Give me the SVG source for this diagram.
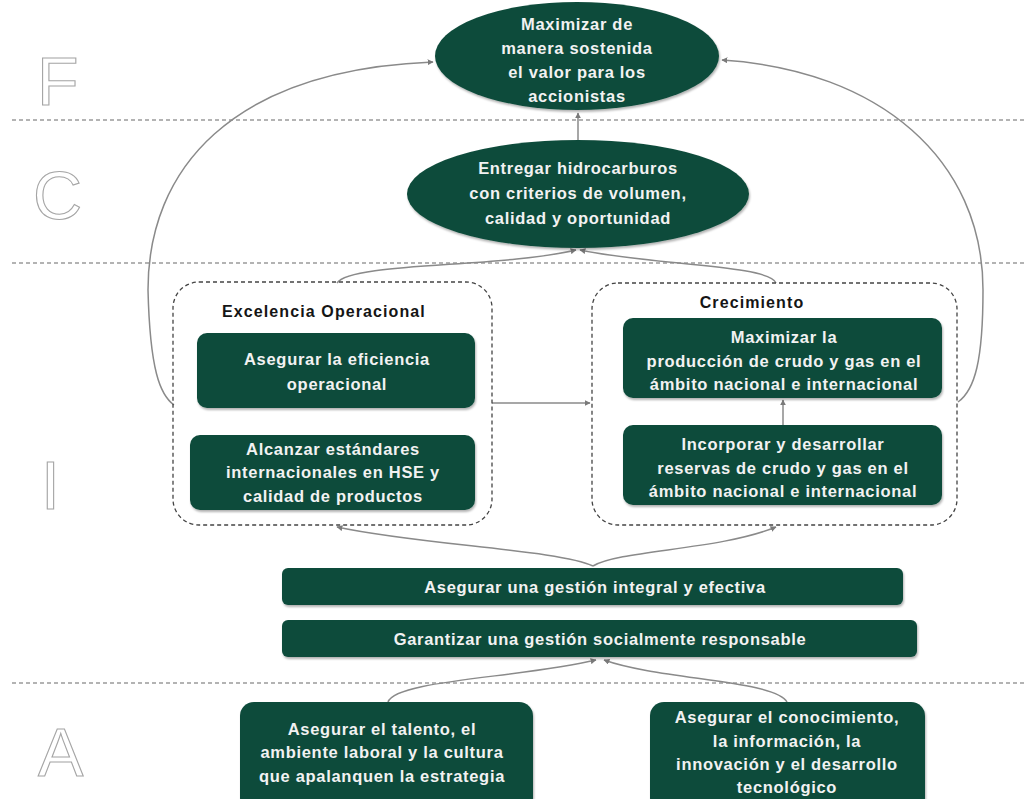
<svg xmlns="http://www.w3.org/2000/svg" width="1026" height="799" viewBox="0 0 1026 799">
  <style>
    .lvl { font-family: "Liberation Sans", Arial, sans-serif; font-size: 68px; fill: #ffffff; stroke: #a5a5a5; stroke-width: 1.1; }
    .sep { stroke: #9a9a9a; stroke-width: 1.3; stroke-dasharray: 4 3; fill: none; }
    .grp { stroke: #444444; stroke-width: 1.3; stroke-dasharray: 4 3; fill: none; }
    .node { fill: #0e4b3b; filter: url(#shadow); }
    .t { font-family: "Liberation Sans", Arial, sans-serif; font-size: 16.5px; font-weight: bold; fill: #f2f2f2; text-anchor: middle; letter-spacing: 0.7px; }
    .h { font-family: "Liberation Sans", Arial, sans-serif; font-size: 16px; font-weight: bold; fill: #151515; text-anchor: middle; letter-spacing: 1.1px; }
    .c { stroke: #8a8a8a; stroke-width: 1.5; fill: none; marker-end: url(#arr); }
  </style>
  <defs>
    <marker id="arr" viewBox="0 0 10 10" refX="9" refY="5" markerWidth="6" markerHeight="6" orient="auto" markerUnits="userSpaceOnUse">
      <path d="M0,0 L10,5 L0,10 z" fill="#7a7a7a"/>
    </marker>
    <filter id="shadow" x="-5%" y="-10%" width="110%" height="130%">
      <feDropShadow dx="1" dy="2" stdDeviation="1.2" flood-color="#000" flood-opacity="0.3"/>
    </filter>
  </defs>

  <!-- level letters -->
  <text class="lvl" x="37" y="105">F</text>
  <text class="lvl" x="33" y="219">C</text>
  <text class="lvl" x="41" y="509">I</text>
  <text class="lvl" x="38" y="776">A</text>

  <!-- level separators -->
  <line class="sep" x1="12" y1="120" x2="1026" y2="120"/>
  <line class="sep" x1="12" y1="263" x2="1026" y2="263"/>
  <line class="sep" x1="12" y1="683" x2="1026" y2="683"/>

  <!-- connectors -->
  <g id="connectors">
    <path class="c" d="M578,140 L578,113"/>
    <path class="c" d="M174,405 C160,395 150,370 148,290 C148,170 230,70 433,62"/>
    <path class="c" d="M958,402 C975,390 983,360 983,290 C983,160 880,70 722,60"/>
    <path class="c" d="M337,283 C350,262 500,268 576,250"/>
    <path class="c" d="M776,283 C770,265 650,265 580,250"/>
    <path class="c" d="M492,403 L590,403"/>
    <path class="c" d="M783,425 L783,400"/>
    <path class="c" d="M593,566 C560,550 420,545 337,527"/>
    <path class="c" d="M593,566 C620,550 720,550 776,527"/>
    <path class="c" d="M388,702 C395,680 520,678 596,660"/>
    <path class="c" d="M787,702 C775,680 660,680 604,660"/>
  </g>

  <!-- F -->
  <g id="valor-accionistas">
    <ellipse class="node" cx="577" cy="56" rx="142" ry="54"/>
    <text class="t" x="577" y="30">Maximizar de</text>
    <text class="t" x="577" y="54">manera sostenida</text>
    <text class="t" x="577" y="78">el valor para los</text>
    <text class="t" x="577" y="102">accionistas</text>
  </g>

  <!-- C -->
  <g id="entregar-hidrocarburos">
    <ellipse class="node" cx="578" cy="194" rx="171" ry="54"/>
    <text class="t" x="578" y="174">Entregar hidrocarburos</text>
    <text class="t" x="578" y="199">con criterios de volumen,</text>
    <text class="t" x="578" y="224">calidad  y oportunidad</text>
  </g>

  <!-- I : Excelencia Operacional -->
  <g id="excelencia-operacional">
    <rect class="grp" x="173" y="282" width="319" height="243" rx="26"/>
    <text class="h" x="324" y="317">Excelencia  Operacional</text>
  </g>
  <g id="eficiencia-operacional">
    <rect class="node" x="197" y="333" width="278" height="75" rx="10"/>
    <text class="t" x="337" y="365">Asegurar la eficiencia</text>
    <text class="t" x="337" y="390">operacional</text>
  </g>
  <g id="estandares-hse">
    <rect class="node" x="190" y="435" width="285" height="75" rx="10"/>
    <text class="t" x="333" y="455">Alcanzar  estándares</text>
    <text class="t" x="333" y="478">internacionales en HSE y</text>
    <text class="t" x="333" y="502">calidad de productos</text>
  </g>

  <!-- I : Crecimiento -->
  <g id="crecimiento">
    <rect class="grp" x="592" y="283" width="365" height="242" rx="26"/>
    <text class="h" x="752" y="308">Crecimiento</text>
  </g>
  <g id="maximizar-produccion">
    <rect class="node" x="623" y="318" width="319" height="80" rx="10"/>
    <text class="t" x="784" y="343">Maximizar  la</text>
    <text class="t" x="784" y="367">producción de crudo y  gas en el</text>
    <text class="t" x="784" y="390">ámbito nacional e internacional</text>
  </g>
  <g id="incorporar-reservas">
    <rect class="node" x="623" y="425" width="319" height="80" rx="10"/>
    <text class="t" x="783" y="450">Incorporar y desarrollar</text>
    <text class="t" x="783" y="474">reservas de crudo y gas en el</text>
    <text class="t" x="783" y="497">ámbito nacional e internacional</text>
  </g>

  <!-- I : cross-cutting management -->
  <g id="gestion-integral">
    <rect class="node" x="282" y="568" width="621" height="37" rx="6"/>
    <text class="t" x="595" y="593">Asegurar una gestión integral y efectiva</text>
  </g>
  <g id="gestion-social">
    <rect class="node" x="282" y="620" width="635" height="37" rx="6"/>
    <text class="t" x="600" y="645">Garantizar una gestión socialmente responsable</text>
  </g>

  <!-- A -->
  <g id="talento">
    <rect class="node" x="240" y="702" width="293" height="110" rx="14"/>
    <text class="t" x="382" y="735">Asegurar  el talento, el</text>
    <text class="t" x="382" y="758">ambiente laboral  y la cultura</text>
    <text class="t" x="382" y="782">que apalanquen la estrategia</text>
  </g>
  <g id="conocimiento">
    <rect class="node" x="650" y="702" width="275" height="110" rx="14"/>
    <text class="t" x="787" y="723">Asegurar el conocimiento,</text>
    <text class="t" x="787" y="747">la información, la</text>
    <text class="t" x="787" y="770">innovación y el desarrollo</text>
    <text class="t" x="787" y="793">tecnológico</text>
  </g>
</svg>
